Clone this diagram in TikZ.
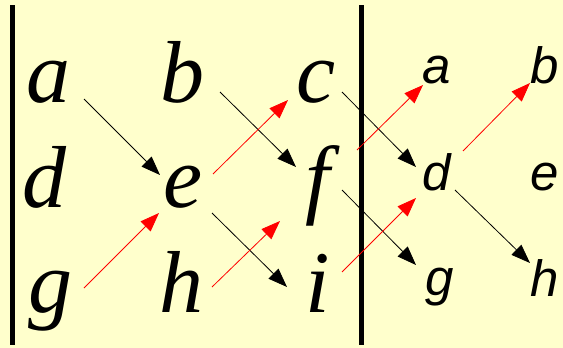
\documentclass[tikz,border=0pt]{standalone}
\usepackage{fontspec}
\setmainfont{Liberation Serif}
\newfontfamily\sansletters{Liberation Sans}
\usetikzlibrary{arrows.meta}
\definecolor{paper}{RGB}{255,255,204}

\begin{document}
\begin{tikzpicture}[
  x=1pt, y=-1pt,
  >={Triangle[length=19pt, width=14pt]},
  big/.style={anchor=base, inner sep=0pt, font=\fontsize{88}{88}\selectfont\itshape},
  small/.style={anchor=base, inner sep=0pt, font=\sansletters\fontsize{51}{51}\selectfont\itshape},
  blk/.style={->, line width=0.8pt, black},
  rd/.style={->, line width=0.8pt, red},
  ]

  % Background
  \fill[paper] (0,0) rectangle (563,348);
  \useasboundingbox (0,0) rectangle (563,348);

  % Bars
  \draw[line width=5pt] (12,5) -- (12,345);
  \draw[line width=5pt] (361.5,5) -- (361.5,345);

  % Left grid (big letters)
  \foreach \n/\x/\y in {a/49/102, b/182/102, c/316/102,
                        d/44/207, e/183/207, f/318/207,
                        g/50/312, h/181/312, i/318/312}
    \node[big] (\n) at (\x,\y) {\n};

  % Right grid (small letters)
  \foreach \n/\x/\y in {a/437/83, b/545/83,
                        d/437/190, e/545/190,
                        g/440/295, h/545/296}
    \node[small] (r\n) at (\x,\y) {\n};

  % Black arrows (down-right)
  \draw[blk] ([shift={(35,-3)}]a.base) -- ([shift={(-23,-32)}]e.base);
  \draw[blk] ([shift={(38,-10)}]b.base) -- ([shift={(-22,-40)}]f.base);
  \draw[blk] ([shift={(29,6)}]e.base) -- ([shift={(-31,-25)}]i.base);
  \draw[blk] ([shift={(26,-10)}]c.base) -- ([shift={(-21,-23)}]rd.base);
  \draw[blk] ([shift={(24,-17)}]f.base) -- ([shift={(-24,-30)}]rg.base);
  \draw[blk] ([shift={(18,0)}]rd.base) -- ([shift={(-15,-33)}]rh.base);

  % Red arrows (up-right)
  \draw[rd] ([shift={(34,-24)}]g.base) -- ([shift={(-24,6)}]e.base);
  \draw[rd] ([shift={(30,-33)}]e.base) -- ([shift={(-28,-2)}]c.base);
  \draw[rd] ([shift={(31,-25)}]h.base) -- ([shift={(-38,14)}]f.base);
  \draw[rd] ([shift={(39,-57)}]f.base) -- ([shift={(-14,2)}]ra.base);
  \draw[rd] ([shift={(24,-40)}]i.base) -- ([shift={(-21,8)}]rd.base);
  \draw[rd] ([shift={(26,-39)}]rd.base) -- ([shift={(-15,0)}]rb.base);

\end{tikzpicture}
\end{document}
